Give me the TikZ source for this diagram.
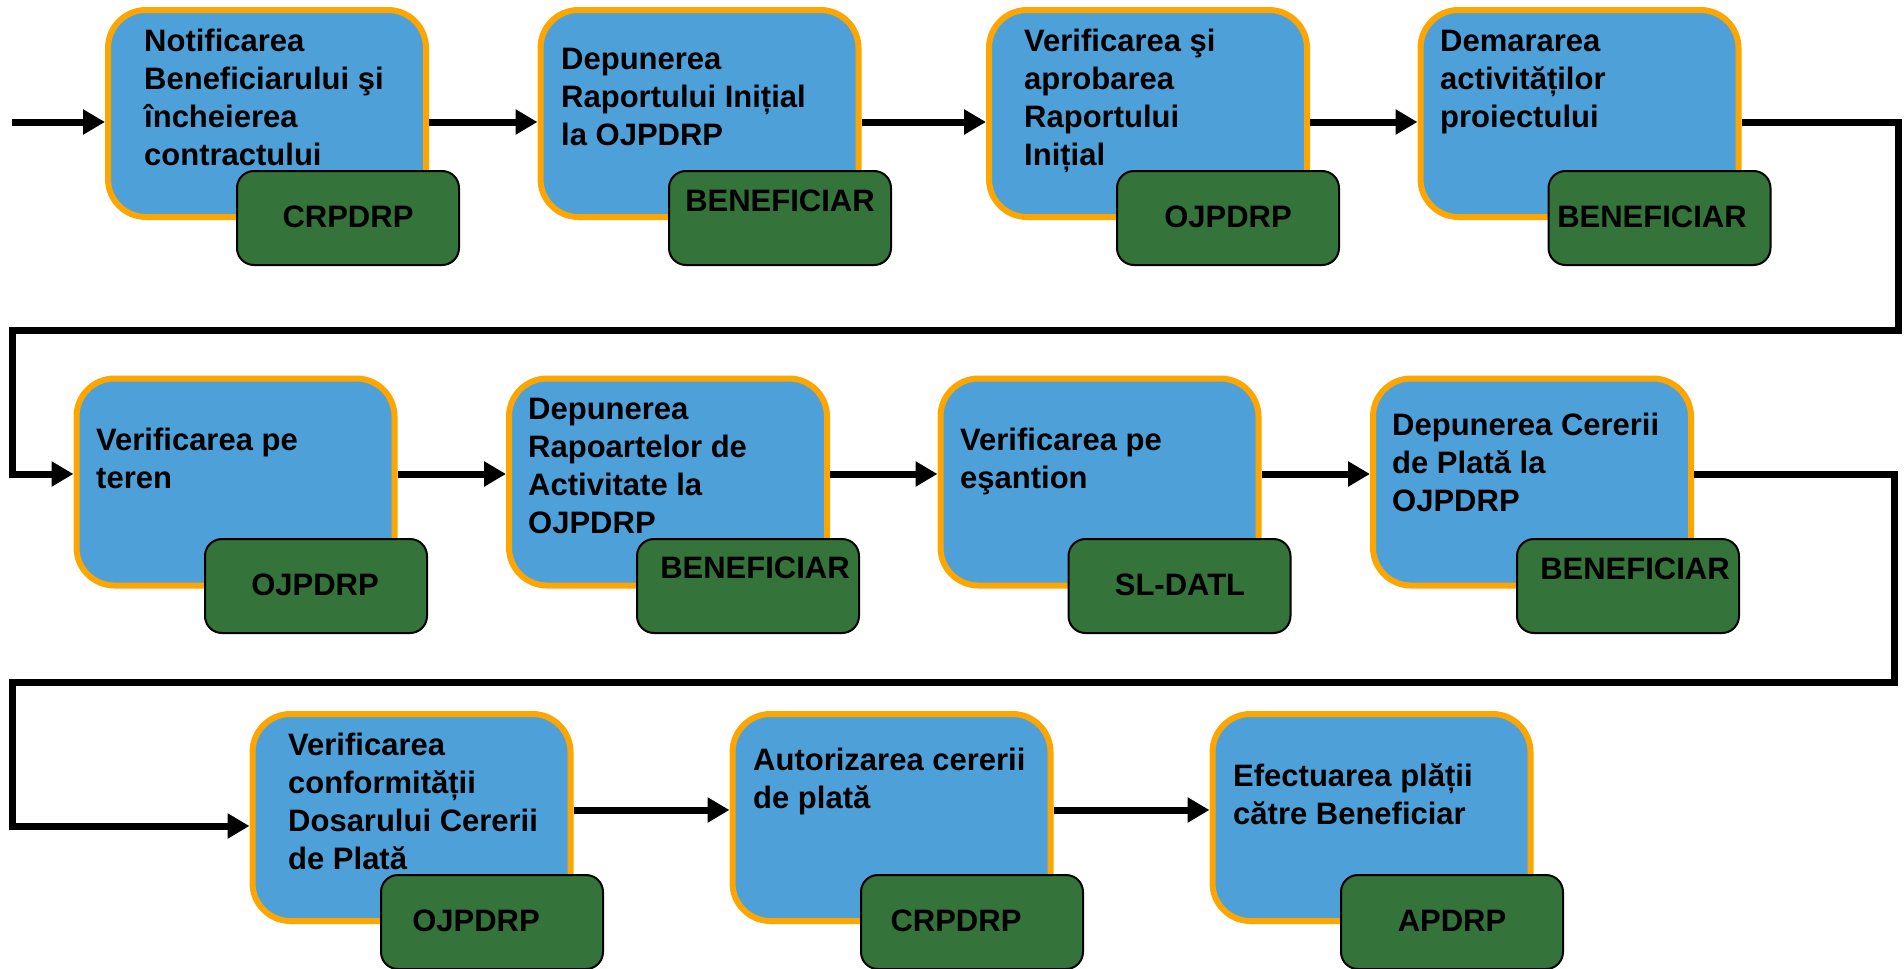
\documentclass[tikz,border=0pt]{standalone}
\usepackage{fontspec}
\setmainfont{Liberation Sans}
\usetikzlibrary{arrows.meta}
\definecolor{boxblue}{RGB}{78,161,216}
\definecolor{boxorange}{RGB}{255,165,0}
\definecolor{boxgreen}{RGB}{52,115,57}
\newcommand{\bltxt}[1]{\parbox[t]{330pt}{\raggedright\fontsize{31}{38}\selectfont\bfseries #1}}
\begin{document}
\begin{tikzpicture}[x=1pt,y=-1pt,
  stepbox/.style={draw=boxorange, line width=6pt, fill=boxblue, rounded corners=38pt,
    minimum width=318pt, minimum height=207pt, inner sep=0pt},
  actor/.style={draw=black, line width=2pt, fill=boxgreen, rounded corners=17pt,
    minimum width=222pt, minimum height=94pt, inner sep=0pt},
  btext/.style={anchor=base west, inner sep=0pt},
  atext/.style={anchor=base, inner sep=0pt, font=\fontsize{31}{38}\selectfont\bfseries},
  flow/.style={line width=7pt, -{Triangle[length=22pt,width=24pt]}, line join=miter}]
\useasboundingbox (0,0) rectangle (1904,969);

% Row 1
\node[stepbox] (B1) at (267,113.5) {};
\node[stepbox] (B2) at (699.5,113.5) {};
\node[stepbox] (B3) at (1148,113.5) {};
\node[stepbox] (B4) at (1579.5,113.5) {};
\node[btext] (T1) at (144,51) {\bltxt{Notificarea\\Beneficiarului şi\\încheierea\\contractului}};
\node[btext] (T2) at (561,69) {\bltxt{Depunerea\\Raportului Inițial\\la OJPDRP}};
\node[btext] (T3) at (1024,51) {\bltxt{Verificarea şi\\aprobarea\\Raportului\\Inițial}};
\node[btext] (T4) at (1440,51) {\bltxt{Demararea\\activităților\\proiectului}};
\node[actor] (G1) at (348,218) {};
\node[actor] (G2) at (780,218) {};
\node[actor] (G3) at (1228,218) {};
\node[actor] (G4) at (1659.5,218) {};
\node[atext] (A1) at (348,227) {CRPDRP};
\node[atext] (A2) at (780,211) {BENEFICIAR};
\node[atext] (A3) at (1228,227) {OJPDRP};
\node[atext] (A4) at (1652,227) {BENEFICIAR};

% Row 2
\node[stepbox] (B5) at (235.5,482) {};
\node[stepbox] (B6) at (668,482) {};
\node[stepbox] (B7) at (1099.5,482) {};
\node[stepbox] (B8) at (1532,482) {};
\node[btext] (T5) at (96,450) {\bltxt{Verificarea pe\\teren}};
\node[btext] (T6) at (528,419) {\bltxt{Depunerea\\Rapoartelor de\\Activitate la\\OJPDRP}};
\node[btext] (T7) at (960,450) {\bltxt{Verificarea pe\\eşantion}};
\node[btext] (T8) at (1392,435) {\bltxt{Depunerea Cererii\\de Plată la\\OJPDRP}};
\node[actor] (G5) at (316,586) {};
\node[actor] (G6) at (748,586) {};
\node[actor] (G7) at (1179.5,586) {};
\node[actor] (G8) at (1628,586) {};
\node[atext] (A5) at (315,595) {OJPDRP};
\node[atext] (A6) at (755,578) {BENEFICIAR};
\node[atext] (A7) at (1180,595) {SL-DATL};
\node[atext] (A8) at (1635,579) {BENEFICIAR};

% Row 3
\node[stepbox] (B9) at (411.5,817.5) {};
\node[stepbox] (B10) at (891.5,817.5) {};
\node[stepbox] (B11) at (1371.5,817.5) {};
\node[btext] (T9) at (288,755) {\bltxt{Verificarea\\conformității\\Dosarului Cererii\\de Plată}};
\node[btext] (T10) at (753,770) {\bltxt{Autorizarea cererii\\de plată}};
\node[btext] (T11) at (1233,786) {\bltxt{Efectuarea plății\\către Beneficiar}};
\node[actor] (G9) at (492,922) {};
\node[actor] (G10) at (972,922) {};
\node[actor] (G11) at (1452,922) {};
\node[atext] (A9) at (476,931) {OJPDRP};
\node[atext] (A10) at (956,931) {CRPDRP};
\node[atext] (A11) at (1452,931) {APDRP};

% connectors
\coordinate (S) at (12,122);
\coordinate (C1) at (1898,122);
\coordinate (C2) at (1898,330);
\coordinate (C3) at (12,330);
\coordinate (C4) at (12,474);
\coordinate (D1) at (1894,474);
\coordinate (D2) at (1894,682);
\coordinate (D3) at (12,682);
\coordinate (D4) at (12,826);

\draw[flow] (S) -- ([yshift=-8.5pt]B1.west);
\draw[flow] ([yshift=-8.5pt]B1.east) -- ([yshift=-8.5pt]B2.west);
\draw[flow] ([yshift=-8.5pt]B2.east) -- ([yshift=-8.5pt]B3.west);
\draw[flow] ([yshift=-8.5pt]B3.east) -- ([yshift=-8.5pt]B4.west);
\draw[flow] ([yshift=-8.5pt]B4.east) -- (C1) -- (C2) -- (C3) -- (C4) -- ([yshift=8pt]B5.west);
\draw[flow] ([yshift=8pt]B5.east) -- ([yshift=8pt]B6.west);
\draw[flow] ([yshift=8pt]B6.east) -- ([yshift=8pt]B7.west);
\draw[flow] ([yshift=8pt]B7.east) -- ([yshift=8pt]B8.west);
\draw[flow] ([yshift=8pt]B8.east) -- (D1) -- (D2) -- (D3) -- (D4) -- ([yshift=-8.5pt]B9.west);
\draw[flow] ([yshift=7.5pt]B9.east) -- ([yshift=7.5pt]B10.west);
\draw[flow] ([yshift=7.5pt]B10.east) -- ([yshift=7.5pt]B11.west);
\end{tikzpicture}
\end{document}
